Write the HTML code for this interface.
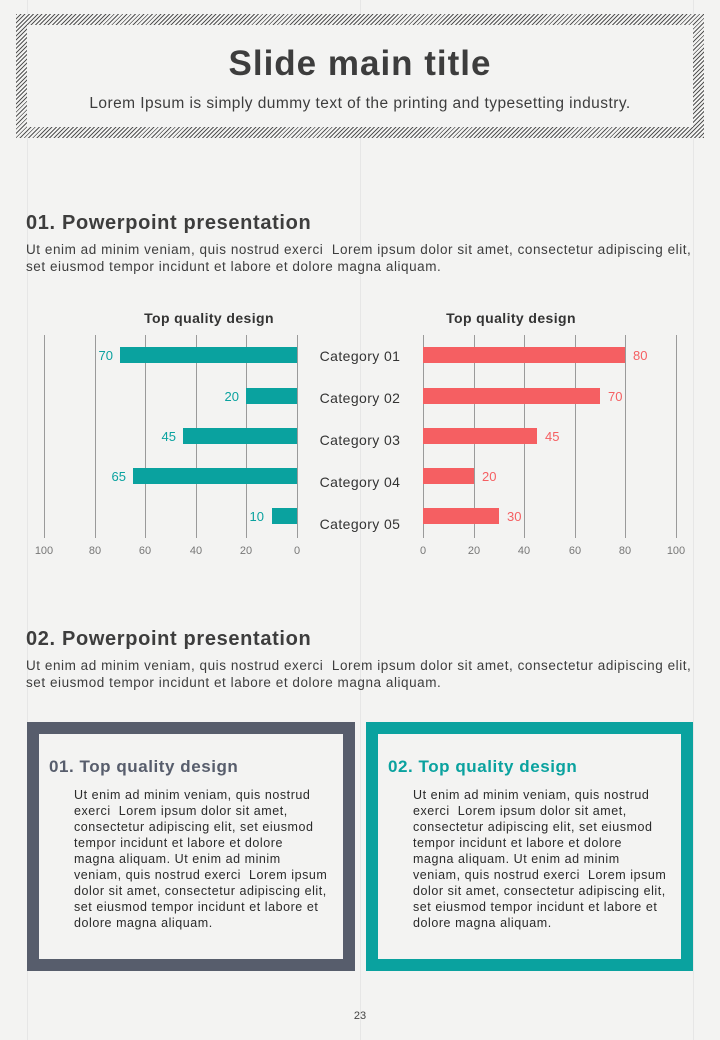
<!DOCTYPE html>
<html><head><meta charset="utf-8"><style>
body{margin:0;width:720px;height:1040px;background:#f3f3f2;position:relative;overflow:hidden;font-family:"Liberation Sans","DejaVu Sans",sans-serif;color:#3d3d3d}
.a{position:absolute;white-space:nowrap}
.vl{position:absolute;top:0;width:1px;height:1040px;background:#e6e6e6}
.hatch{position:absolute;left:16px;top:14px;width:688px;height:124px;box-sizing:border-box;border:11px solid transparent;
background:repeating-linear-gradient(135deg,#555 0 1px,#f3f3f2 1px 3px) border-box;}
.hatch .in{position:absolute;inset:0;background:#f3f3f2}
.h2{font-size:20px;font-weight:bold;color:#3d3d3d;letter-spacing:0.65px}
.p{font-size:13.5px;line-height:17px;color:#3d3d3d;letter-spacing:0.55px}
.box{position:absolute;top:722px;height:249px;box-sizing:border-box;border:12px solid}
.bt{font-size:17px;font-weight:bold;letter-spacing:0.55px}
.bp{font-size:12.5px;line-height:16px;color:#2a2a2a;letter-spacing:0.55px}
</style></head><body>
<div class="vl" style="left:27px"></div><div class="vl" style="left:360px"></div><div class="vl" style="left:693px"></div>
<div class="hatch"><div class="in"></div></div>
<div class="a" style="left:0;width:720px;text-align:center;top:44px;font-size:35px;font-weight:bold;color:#3d3d3d;letter-spacing:1px">Slide main title</div>
<div class="a" style="left:0;width:720px;text-align:center;top:95px;font-size:15.5px;color:#3d3d3d;letter-spacing:0.45px">Lorem Ipsum is simply dummy text of the printing and typesetting industry.</div>

<div class="a h2" style="left:26px;top:212px">01. Powerpoint presentation</div>
<div class="a p" style="left:26px;top:241px">Ut enim ad minim veniam, quis nostrud exerci&nbsp; Lorem ipsum dolor sit amet, consectetur adipiscing elit,<br>set eiusmod tempor incidunt et labore et dolore magna aliquam.</div>

<svg class="a" style="left:0;top:300px" width="720" height="260" font-family="Liberation Sans, sans-serif">
<text x="209" y="23" text-anchor="middle" font-size="14" font-weight="bold" fill="#333" letter-spacing="0.4">Top quality design</text>
<text x="511" y="23" text-anchor="middle" font-size="14" font-weight="bold" fill="#333" letter-spacing="0.4">Top quality design</text>
<g stroke="#9a9a9a" stroke-width="1">
<line x1="44.5" y1="35" x2="44.5" y2="238"/><line x1="95.5" y1="35" x2="95.5" y2="238"/><line x1="145.5" y1="35" x2="145.5" y2="238"/><line x1="196.5" y1="35" x2="196.5" y2="238"/><line x1="246.5" y1="35" x2="246.5" y2="238"/><line x1="297.5" y1="35" x2="297.5" y2="238"/>
<line x1="423.5" y1="35" x2="423.5" y2="238"/><line x1="474.5" y1="35" x2="474.5" y2="238"/><line x1="524.5" y1="35" x2="524.5" y2="238"/><line x1="575.5" y1="35" x2="575.5" y2="238"/><line x1="625.5" y1="35" x2="625.5" y2="238"/><line x1="676.5" y1="35" x2="676.5" y2="238"/>
</g>
<g fill="#0aa29f">
<rect x="120" y="47" width="177" height="16"/><rect x="246" y="88" width="51" height="16"/><rect x="183" y="128" width="114" height="16"/><rect x="133" y="168" width="164" height="16"/><rect x="272" y="208" width="25" height="16"/>
</g>
<g fill="#0aa29f" font-size="13" text-anchor="end">
<text x="113" y="60">70</text><text x="239" y="101">20</text><text x="176" y="141">45</text><text x="126" y="181">65</text><text x="264" y="221">10</text>
</g>
<g fill="#f55f62">
<rect x="423" y="47" width="202" height="16"/><rect x="423" y="88" width="177" height="16"/><rect x="423" y="128" width="114" height="16"/><rect x="423" y="168" width="51" height="16"/><rect x="423" y="208" width="76" height="16"/>
</g>
<g fill="#f55f62" font-size="13">
<text x="633" y="60">80</text><text x="608" y="101">70</text><text x="545" y="141">45</text><text x="482" y="181">20</text><text x="507" y="221">30</text>
</g>
<g fill="#333" font-size="14" text-anchor="middle" letter-spacing="0.4">
<text x="360" y="61">Category 01</text><text x="360" y="103">Category 02</text><text x="360" y="145">Category 03</text><text x="360" y="187">Category 04</text><text x="360" y="229">Category 05</text>
</g>
<g fill="#777" font-size="11" text-anchor="middle">
<text x="44" y="254">100</text><text x="95" y="254">80</text><text x="145" y="254">60</text><text x="196" y="254">40</text><text x="246" y="254">20</text><text x="297" y="254">0</text>
<text x="423" y="254">0</text><text x="474" y="254">20</text><text x="524" y="254">40</text><text x="575" y="254">60</text><text x="625" y="254">80</text><text x="676" y="254">100</text>
</g>
</svg>

<div class="a h2" style="left:26px;top:628px">02. Powerpoint presentation</div>
<div class="a p" style="left:26px;top:657px">Ut enim ad minim veniam, quis nostrud exerci&nbsp; Lorem ipsum dolor sit amet, consectetur adipiscing elit,<br>set eiusmod tempor incidunt et labore et dolore magna aliquam.</div>

<div class="box" style="left:27px;width:328px;border-color:#575d6c"></div>
<div class="box" style="left:366px;width:327px;border-color:#0aa29f"></div>
<div class="a bt" style="left:49px;top:757px;color:#575d6c">01. Top quality design</div>
<div class="a bt" style="left:388px;top:757px;color:#0aa29f">02. Top quality design</div>
<div class="a bp" style="left:74px;top:787px">Ut enim ad minim veniam, quis nostrud<br>exerci&nbsp; Lorem ipsum dolor sit amet,<br>consectetur adipiscing elit, set eiusmod<br>tempor incidunt et labore et dolore<br>magna aliquam. Ut enim ad minim<br>veniam, quis nostrud exerci&nbsp; Lorem ipsum<br>dolor sit amet, consectetur adipiscing elit,<br>set eiusmod tempor incidunt et labore et<br>dolore magna aliquam.</div>
<div class="a bp" style="left:413px;top:787px">Ut enim ad minim veniam, quis nostrud<br>exerci&nbsp; Lorem ipsum dolor sit amet,<br>consectetur adipiscing elit, set eiusmod<br>tempor incidunt et labore et dolore<br>magna aliquam. Ut enim ad minim<br>veniam, quis nostrud exerci&nbsp; Lorem ipsum<br>dolor sit amet, consectetur adipiscing elit,<br>set eiusmod tempor incidunt et labore et<br>dolore magna aliquam.</div>
<div class="a" style="left:0;width:720px;text-align:center;top:1010px;font-size:11px;color:#444">23</div>
</body></html>
